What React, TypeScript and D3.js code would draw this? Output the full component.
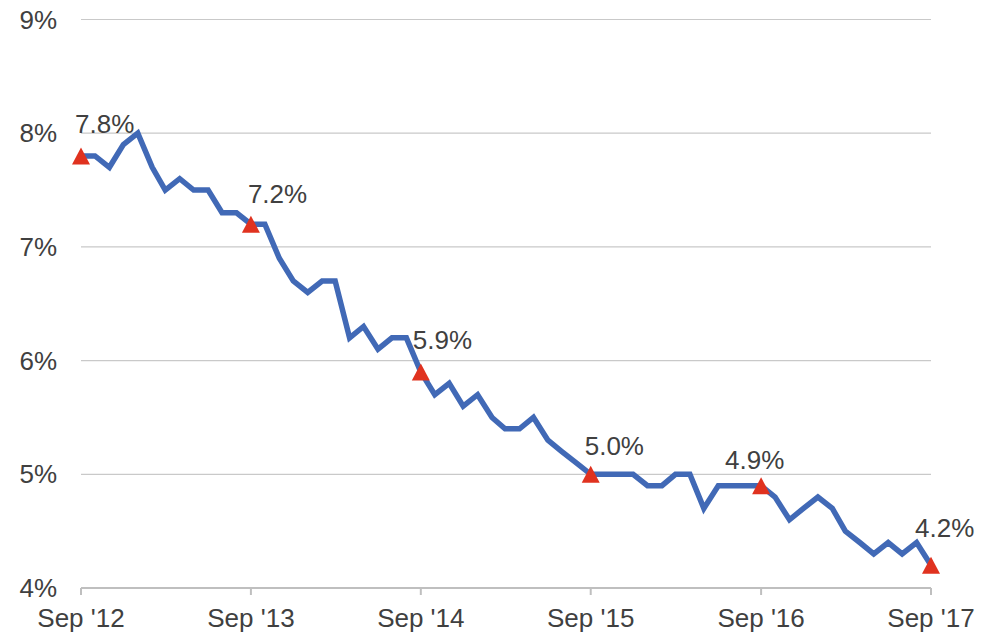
import React from "react";
import * as d3 from "d3";

const startYear = 2012;
const startMonth = 8; // September (0-based)
const rates: number[] = [
  7.8, 7.8, 7.7, 7.9,
  8.0, 7.7, 7.5, 7.6, 7.5, 7.5, 7.3, 7.3, 7.2, 7.2, 6.9, 6.7,
  6.6, 6.7, 6.7, 6.2, 6.3, 6.1, 6.2, 6.2, 5.9, 5.7, 5.8, 5.6,
  5.7, 5.5, 5.4, 5.4, 5.5, 5.3, 5.2, 5.1, 5.0, 5.0, 5.0, 5.0,
  4.9, 4.9, 5.0, 5.0, 4.7, 4.9, 4.9, 4.9, 4.9, 4.8, 4.6, 4.7,
  4.8, 4.7, 4.5, 4.4, 4.3, 4.4, 4.3, 4.4, 4.2,
];
const markerIndices: number[] = [0, 12, 24, 36, 48, 60];
const markerLabels: string[] = ["7.8%", "7.2%", "5.9%", "5.0%", "4.9%", "4.2%"];
const labelDx: number[] = [-6, -3, -8, -6, -36, -16];
const labelDy: number[] = [-23, -21, -23, -19, -17, -28];
const yTicks: number[] = [4, 5, 6, 7, 8, 9];
const xTickLabels: string[] = ["Sep '12", "Sep '13", "Sep '14", "Sep '15", "Sep '16", "Sep '17"];

const W = 991;
const H = 634;
const left = 81;
const right = 931;
const top = 19.5;
const bottom = 588;

export default function App() {
  const dates = rates.map((_, i) => new Date(startYear, startMonth + i, 1));
  const x = d3.scaleTime().domain([dates[0], dates[dates.length - 1]]).range([left, right]);
  const y = d3.scaleLinear().domain([4, 9]).range([bottom, top]);
  const line = d3
    .line<number>()
    .x((_, i) => x(dates[i]))
    .y((d) => y(d));
  const tri = "M0,-8.5L9,8.5L-9,8.5Z";
  const font = "Liberation Sans, Arial, sans-serif";
  const textColor = "#404040";
  const fs = 26;

  return (
    <svg width={W} height={H} style={{ position: "absolute", left: 0, top: 0 }} fontFamily={font}>
      <rect width={W} height={H} fill="#fff" />
      {yTicks.map((t) => (
        <g key={t}>
          {t !== 4 && (
            <line x1={left} x2={right} y1={y(t)} y2={y(t)} stroke="#c9c9c9" strokeWidth={1.2} />
          )}
          <text x={57} y={y(t)} textAnchor="end" dominantBaseline="central" fontSize={fs} fill={textColor}>
            {t}%
          </text>
        </g>
      ))}
      <line x1={left} x2={right} y1={bottom} y2={bottom} stroke="#bfbfbf" strokeWidth={2} />
      {markerIndices.map((mi, k) => (
        <g key={mi}>
          <line x1={x(dates[mi])} x2={x(dates[mi])} y1={bottom} y2={bottom + 7} stroke="#bfbfbf" strokeWidth={2} />
          <text x={x(dates[mi])} y={627} textAnchor="middle" fontSize={fs} fill={textColor}>
            {xTickLabels[k]}
          </text>
        </g>
      ))}
      <path d={line(rates) || ""} fill="none" stroke="#4169b6" strokeWidth={5.5} strokeLinejoin="miter" />
      {markerIndices.map((mi, k) => (
        <g key={"m" + mi}>
          <path d={tri} transform={`translate(${x(dates[mi])},${y(rates[mi])})`} fill="#e0321f" />
          <text x={x(dates[mi]) + labelDx[k]} y={y(rates[mi]) + labelDy[k]} fontSize={fs} fill={textColor}>
            {markerLabels[k]}
          </text>
        </g>
      ))}
    </svg>
  );
}
